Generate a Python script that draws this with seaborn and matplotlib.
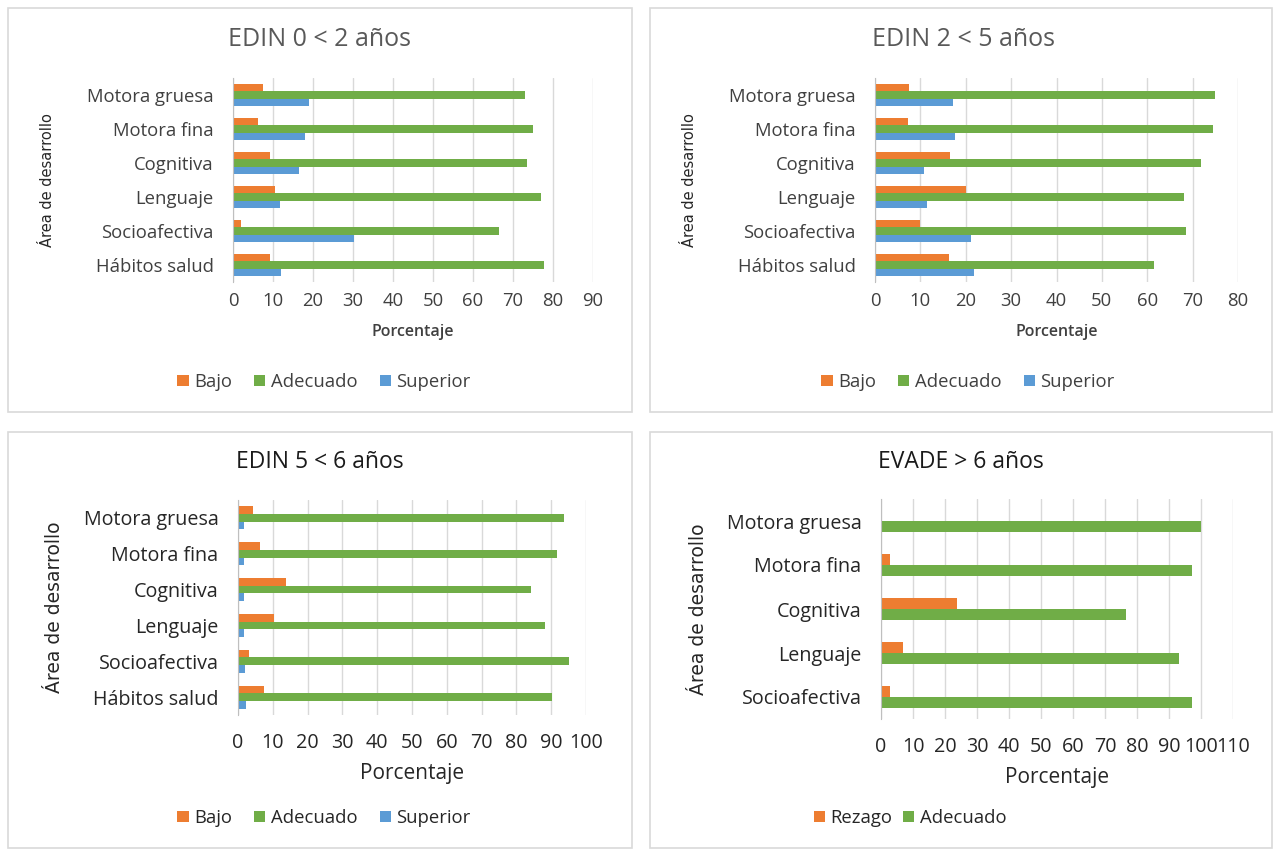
"""
Four-panel developmental screening chart (EDIN / EVADE) by area
"""
import matplotlib
matplotlib.use('Agg')
import matplotlib.pyplot as plt
from matplotlib.patches import Rectangle, Patch
import pandas as pd
import seaborn as sns


# Data
areas6 = ['Motora gruesa', 'Motora fina', 'Cognitiva', 'Lenguaje',
          'Socioafectiva', 'Hábitos salud']
areas5 = ['Motora gruesa', 'Motora fina', 'Cognitiva', 'Lenguaje', 'Socioafectiva']

edin02_bajo = [7.6, 6.2, 9.3, 10.6, 2.0, 9.3]
edin02_adecuado = [72.9, 74.9, 73.6, 77.0, 66.6, 77.7]
edin02_superior = [18.9, 17.9, 16.6, 11.7, 30.3, 12.0]

edin25_bajo = [7.6, 7.3, 16.6, 20.0, 10.0, 16.3]
edin25_adecuado = [75.0, 74.6, 71.9, 68.2, 68.5, 61.5]
edin25_superior = [17.3, 17.6, 10.9, 11.5, 21.2, 21.8]

edin56_bajo = [4.4, 6.4, 13.9, 10.4, 3.3, 7.6]
edin56_adecuado = [93.8, 91.7, 84.2, 88.3, 95.0, 90.2]
edin56_superior = [1.6, 1.6, 1.6, 1.6, 2.0, 2.4]

evade_rezago = [0.0, 2.7, 23.8, 7.0, 2.7]
evade_adecuado = [100.0, 97.3, 76.7, 93.0, 97.3]

COLORS = {'Bajo': '#ED7D31', 'Rezago': '#ED7D31',
          'Adecuado': '#70AD47', 'Superior': '#5B9BD5'}

W, H = 1276, 852
FONT = 'Open Sans'
NARROW = ['Liberation Sans Narrow', 'DejaVu Sans']


def long_frame(areas, series):
    rows = []
    for name, vals in series.items():
        for a, v in zip(areas, vals):
            rows.append({'area': a, 'nivel': name, 'valor': v})
    return pd.DataFrame(rows)


def fx(px):
    return px / W


def fy(py):
    return 1 - py / H


def draw_panel(fig, box, rect, areas, series, xmax, title, title_color,
               small, width, legend_x, title_x, colspace):
    # panel frame
    x0, y0, x1, y1 = box
    fig.add_artist(Rectangle((fx(x0), fy(y1)), fx(x1 - x0), (y1 - y0) / H,
                             transform=fig.transFigure, fill=False,
                             edgecolor='#d9d9d9', linewidth=1.2))

    left, top, right, bottom = rect
    ax = fig.add_axes([fx(left), fy(bottom), fx(right - left), (bottom - top) / H])
    df = long_frame(areas, series)
    order = list(series.keys())
    sns.barplot(data=df, y='area', x='valor', hue='nivel', hue_order=order,
                order=areas, palette=COLORS, orient='h', width=width,
                ax=ax, legend=False, saturation=1, linewidth=0,
                edgecolor='none')

    ax.set_xlim(0, xmax)
    ax.set_xticks(range(0, xmax + 1, 10))
    ax.grid(axis='x', color='#d9d9d9', linewidth=1)
    ax.set_axisbelow(True)
    for s in ['top', 'right', 'bottom']:
        ax.spines[s].set_visible(False)
    ax.spines['left'].set_color('#bfbfbf')
    ax.tick_params(length=0)

    tick_fs = 13.3 if small else 14.2
    tick_color = '#404040' if small else '#262626'
    ax.tick_params(axis='y', pad=14, labelsize=tick_fs, labelcolor=tick_color)
    ax.tick_params(axis='x', pad=7 if small else 13, labelsize=tick_fs,
                   labelcolor=tick_color)
    for lab in ax.get_xticklabels() + ax.get_yticklabels():
        lab.set_fontfamily(FONT)

    ax.set_ylabel('')
    if small:
        ax.set_xlabel('Porcentaje', fontsize=11.5, color='#404040',
                      fontfamily=FONT, fontweight='semibold', labelpad=10)
    else:
        ax.set_xlabel('Porcentaje', fontsize=15, color='#262626',
                      fontfamily=FONT, labelpad=7)

    # titles and y label
    fig.text(fx(title_x), fy(y0 + 31 if small else y0 + 30), title,
             ha='center', va='center', fontsize=18 if small else 16.5,
             color=title_color, fontfamily=FONT)
    ycen = (top + bottom) / 2
    fig.text(fx(left - (185 if small else 183)), fy(ycen), 'Área de desarrollo',
             rotation=90, ha='center', va='center',
             fontsize=10.5 if small else 13.5, color='#262626', family=NARROW)

    handles = [Patch(facecolor=COLORS[n], edgecolor='none') for n in order]
    ax.legend(handles, order, loc='center', ncol=len(order), frameon=False,
              bbox_to_anchor=(fx(legend_x), fy(y1 - 30)),
              bbox_transform=fig.transFigure,
              prop={'family': FONT, 'size': 13.3 if small else 13.3},
              labelcolor='#404040' if small else '#262626',
              handlelength=0.6, handleheight=0.6, handletextpad=0.3,
              columnspacing=colspace)
    return ax


def main():
    sns.set_style('white')
    fig = plt.figure(figsize=(W / 100, H / 100), dpi=100)

    draw_panel(fig, (8, 8, 632, 412), (233, 78, 593, 282), areas6,
               {'Bajo': edin02_bajo, 'Adecuado': edin02_adecuado,
                'Superior': edin02_superior},
               90, 'EDIN 0 < 2 años', '#595959', True, 0.66, 324, 320, 1.2)
    draw_panel(fig, (650, 8, 1272, 412), (875, 78, 1238, 282), areas6,
               {'Bajo': edin25_bajo, 'Adecuado': edin25_adecuado,
                'Superior': edin25_superior},
               80, 'EDIN 2 < 5 años', '#595959', True, 0.66, 968, 963, 1.2)
    draw_panel(fig, (8, 432, 632, 848), (238, 500, 586, 715), areas6,
               {'Bajo': edin56_bajo, 'Adecuado': edin56_adecuado,
                'Superior': edin56_superior},
               100, 'EDIN 5 < 6 años', '#1a1a1a', False, 0.64, 324, 320, 1.2)
    draw_panel(fig, (650, 432, 1272, 848), (881, 499, 1233, 719), areas5,
               {'Rezago': evade_rezago, 'Adecuado': evade_adecuado},
               110, 'EVADE > 6 años', '#1a1a1a', False, 0.52, 910, 961, 0.6)

    fig.savefig('out.png', dpi=100, facecolor='white')
    plt.close(fig)


if __name__ == '__main__':
    main()
